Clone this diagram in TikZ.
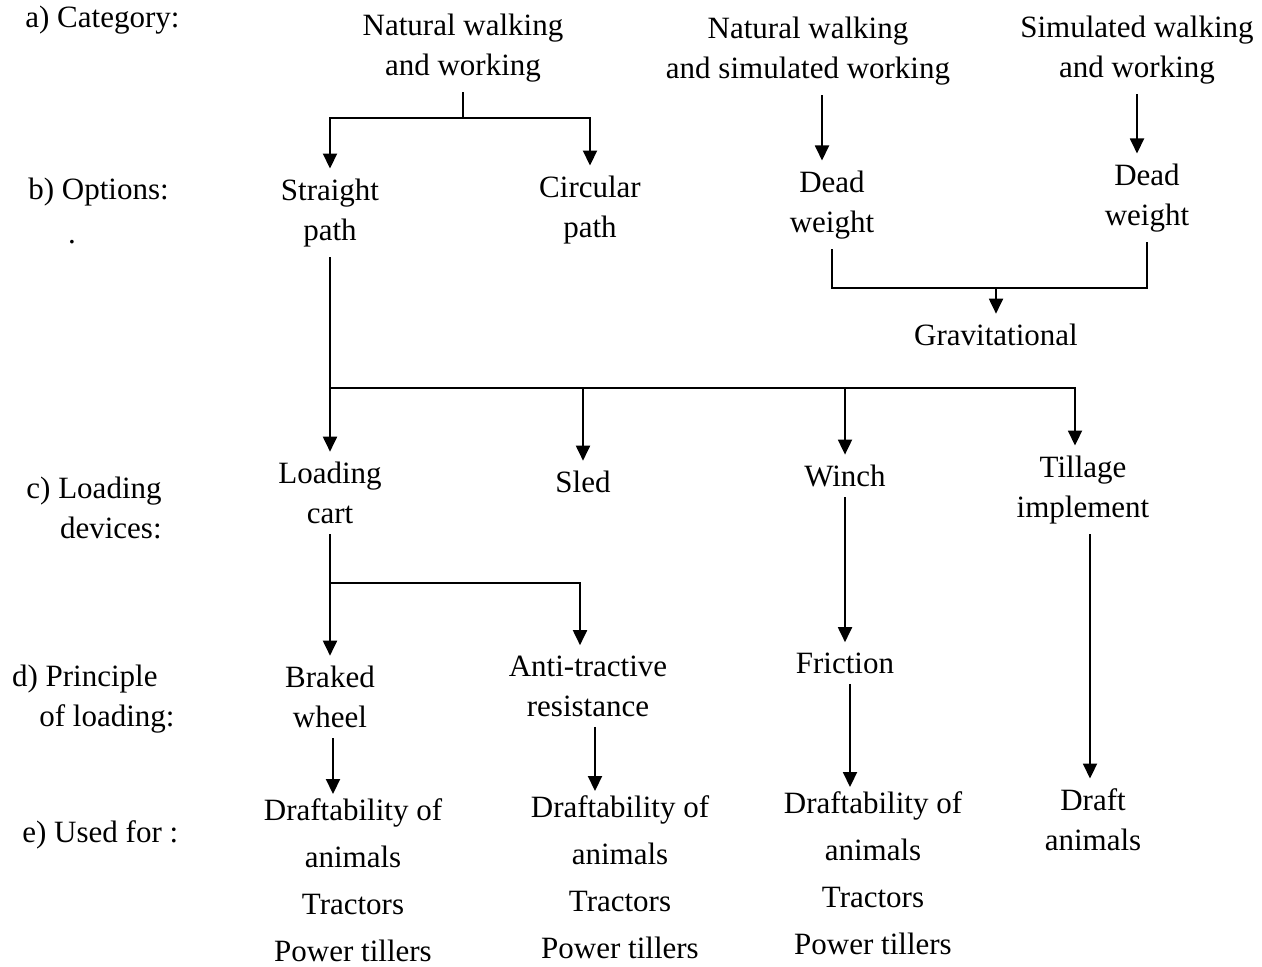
\documentclass[tikz,border=0pt]{standalone}
\usepackage{fontspec}
\setmainfont{Liberation Serif}
\usetikzlibrary{positioning, arrows.meta}

\tikzset{
  lbl/.style={font=\fontsize{15.5}{20}\selectfont, align=center, inner sep=5pt},
  usedlbl/.style={lbl, font=\fontsize{15.5}{23.5}\selectfont, inner sep=2pt},
  sidelbl/.style={lbl, align=right, anchor=east},
  link/.style={line width=0.95pt},
  arr/.style={link, -{Triangle[width=7pt,length=7.5pt]}}
}

\begin{document}
\begin{tikzpicture}[x=0.5pt,y=-0.5pt]
\useasboundingbox (0,0) rectangle (1262,967);
% row labels
\node[lbl, anchor=west] (rowA) at (15,20) {a) Category:};
\node[lbl, anchor=west] (rowB) at (18,192) {b) Options:};
\node[lbl] (dotB) at (72,242) {.};
\node[sidelbl] (rowC) at (172,508) {c) Loading\\devices:};
\node[sidelbl] (rowD) at (185,699) {d) Principle\hspace*{8.5pt}\\of loading:};
\node[lbl, anchor=west] (rowE) at (12,835) {e) Used for :};
% categories
\node[lbl] (N1) at (463,48) {Natural walking\\and working};
\node[lbl] (N2) at (808,51) {Natural walking\\and simulated working};
\node[lbl] (N3) at (1137,50) {Simulated walking\\and working};
% options
\node[lbl] (Straight) at (330,213) {Straight\\path};
\node[lbl] (Circular) at (590,210) {Circular\\path};
\node[lbl] (Dead1) at (832,205) {Dead\\weight};
\node[lbl] (Dead2) at (1147,198) {Dead\\weight};
\node[lbl] (Grav) at (996,335) {Gravitational};
% loading devices
\node[lbl] (Cart) at (330,493) {Loading\\cart};
\node[lbl] (Sled) at (583,482) {Sled};
\node[lbl] (Winch) at (845,476) {Winch};
\node[lbl] (Tillage) at (1083,490) {Tillage\\implement};
% principle of loading
\node[lbl] (Braked) at (330,697) {Braked\\wheel};
\node[lbl] (Anti) at (588,686) {Anti-tractive\\resistance};
\node[lbl] (Friction) at (845,663) {Friction};
% used for
\node[usedlbl] (Use1) at (353,880) {Draftability of\\animals\\Tractors\\Power tillers};
\node[usedlbl] (Use2) at (620,877) {Draftability of\\animals\\Tractors\\Power tillers};
\node[usedlbl] (Use3) at (873,873) {Draftability of\\animals\\Tractors\\Power tillers};
\node[lbl] (Draft) at (1093,820) {Draft\\animals};

% junctions
\coordinate (J1) at (463,118);
\coordinate (J2) at (996,288);
\coordinate (J3) at (330,388);
\coordinate (J4) at (330,583);

% relations
\draw[link] (N1) -- (J1);
\draw[arr] (J1) -| (Straight);
\draw[arr] (J1) -| (Circular);
\draw[arr] ([xshift=7pt]N2.south) -- ([xshift=7pt]N2.south |- Dead1.north);
\draw[arr] (N3) -- (N3 |- Dead2.north);
\draw[link] (Dead1) |- (J2) -| (Dead2);
\draw[arr] (J2) -- (Grav);
\draw[link] (Straight) -- (J3);
\draw[arr] (J3) -- (Cart);
\draw[arr] (J3) -| (Sled);
\draw[arr] (J3) -| (Winch);
\draw[arr] (J3) -| ([xshift=-4pt]Tillage.north);
\draw[link] (Cart) -- (J4);
\draw[arr] (J4) -- (Braked);
\draw[arr] (J4) -| ([xshift=-4pt]Anti.north);
\draw[arr] (Winch) -- (Friction);
\draw[arr] ([xshift=3.5pt]Tillage.south) -- ([xshift=3.5pt]Tillage.south |- Draft.north);
\draw[arr] ([xshift=1.5pt]Braked.south) -- ([xshift=1.5pt]Braked.south |- Use1.north);
\draw[arr] ([xshift=3.5pt]Anti.south) -- ([xshift=3.5pt]Anti.south |- Use2.north);
\draw[arr] ([xshift=2.5pt]Friction.south) -- ([xshift=2.5pt]Friction.south |- Use3.north);
\end{tikzpicture}
\end{document}
